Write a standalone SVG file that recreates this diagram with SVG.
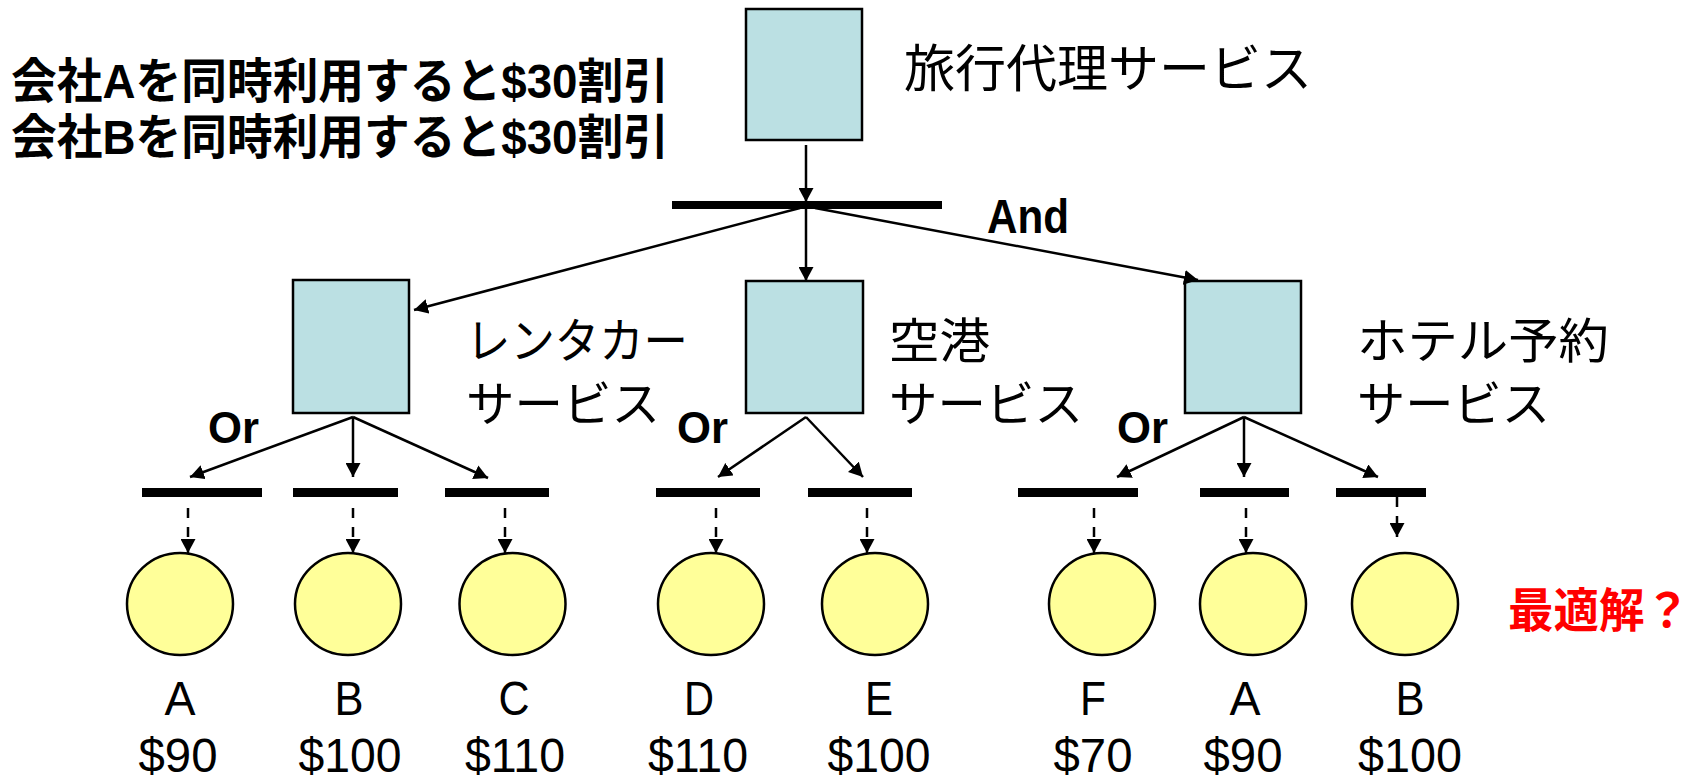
<svg xmlns="http://www.w3.org/2000/svg" width="1701" height="779" viewBox="0 0 1701 779">
<style>
.box{fill:#BBE0E3;stroke:#000;stroke-width:2.5}
.leaf{fill:#FFFF99;stroke:#000;stroke-width:2.5}
.bar{fill:#000}
.cn{stroke:#000;stroke-width:2.5;fill:none;marker-end:url(#ah)}
.dash{stroke:#000;stroke-width:2.5;fill:none;stroke-dasharray:10 9;marker-end:url(#ah)}
.jp{font-family:"Liberation Sans","Noto Sans CJK JP",sans-serif;fill:#000}
.lat{font-family:"Liberation Sans",Arial,sans-serif;fill:#000;text-anchor:middle;font-size:48px}
.op{font-family:"Liberation Sans",Arial,sans-serif;font-weight:bold;fill:#000}
</style>
<defs>
<marker id="ah" viewBox="0 0 14 15" refX="14" refY="7.5" markerWidth="14" markerHeight="15" markerUnits="userSpaceOnUse" orient="auto">
<path d="M0,0 L14,7.5 L0,15 z" fill="#000"/>
</marker>
</defs>

<text class="jp" x="11" y="98" font-size="48" font-weight="bold" textLength="658" lengthAdjust="spacingAndGlyphs">会社Aを同時利用すると$30割引</text>
<text class="jp" x="11" y="154" font-size="48" font-weight="bold" textLength="658" lengthAdjust="spacingAndGlyphs">会社Bを同時利用すると$30割引</text>

<g id="travel">
<rect class="box" x="746" y="9" width="116" height="131"/>
<text class="jp" x="904" y="87" font-size="51" textLength="408" lengthAdjust="spacingAndGlyphs">旅行代理サービス</text>
</g>
<g id="and">
<rect class="bar" x="672" y="201" width="270" height="8"/>
<text class="op" x="987" y="233" font-size="49" textLength="82" lengthAdjust="spacingAndGlyphs">And</text>
</g>

<g id="rental">
<rect class="box" x="293" y="280" width="116" height="133"/>
<text class="jp" x="466" y="358" font-size="48" textLength="222" lengthAdjust="spacingAndGlyphs">レンタカー</text>
<text class="jp" x="466" y="421" font-size="48" textLength="194" lengthAdjust="spacingAndGlyphs">サービス</text>
<text class="op" x="208" y="443" font-size="44" textLength="51" lengthAdjust="spacingAndGlyphs">Or</text>
</g>
<g id="airport">
<rect class="box" x="746" y="281" width="117" height="132"/>
<text class="jp" x="889" y="358" font-size="48" textLength="101" lengthAdjust="spacingAndGlyphs">空港</text>
<text class="jp" x="889" y="421" font-size="48" textLength="194" lengthAdjust="spacingAndGlyphs">サービス</text>
<text class="op" x="677" y="443" font-size="44" textLength="51" lengthAdjust="spacingAndGlyphs">Or</text>
</g>
<g id="hotel">
<rect class="box" x="1185" y="281" width="116" height="132"/>
<text class="jp" x="1357" y="358" font-size="48" textLength="252" lengthAdjust="spacingAndGlyphs">ホテル予約</text>
<text class="jp" x="1357" y="421" font-size="48" textLength="193" lengthAdjust="spacingAndGlyphs">サービス</text>
<text class="op" x="1117" y="443" font-size="44" textLength="51" lengthAdjust="spacingAndGlyphs">Or</text>
</g>

<g id="or-bars">
<rect class="bar" x="142" y="488" width="120" height="9"/>
<rect class="bar" x="293" y="488" width="105" height="9"/>
<rect class="bar" x="445" y="488" width="104" height="9"/>
<rect class="bar" x="656" y="488" width="104" height="9"/>
<rect class="bar" x="808" y="488" width="104" height="9"/>
<rect class="bar" x="1018" y="488" width="120" height="9"/>
<rect class="bar" x="1200" y="488" width="89" height="9"/>
<rect class="bar" x="1336" y="488" width="90" height="9"/>
</g>

<g id="leafA1"><ellipse class="leaf" cx="180" cy="604" rx="53" ry="51"/><text class="lat" x="180" y="715" textLength="31" lengthAdjust="spacingAndGlyphs">A</text><text class="lat" x="178" y="772" textLength="79" lengthAdjust="spacingAndGlyphs">$90</text></g>
<g id="leafB1"><ellipse class="leaf" cx="348" cy="604" rx="53" ry="51"/><text class="lat" x="349" y="715" textLength="29" lengthAdjust="spacingAndGlyphs">B</text><text class="lat" x="350" y="772" textLength="103" lengthAdjust="spacingAndGlyphs">$100</text></g>
<g id="leafC"><ellipse class="leaf" cx="512.5" cy="604" rx="53" ry="51"/><text class="lat" x="514" y="715" textLength="31" lengthAdjust="spacingAndGlyphs">C</text><text class="lat" x="515" y="772" textLength="100" lengthAdjust="spacingAndGlyphs">$110</text></g>
<g id="leafD"><ellipse class="leaf" cx="711" cy="604" rx="53" ry="51"/><text class="lat" x="699" y="715" textLength="30" lengthAdjust="spacingAndGlyphs">D</text><text class="lat" x="698" y="772" textLength="100" lengthAdjust="spacingAndGlyphs">$110</text></g>
<g id="leafE"><ellipse class="leaf" cx="875" cy="604" rx="53" ry="51"/><text class="lat" x="879" y="715" textLength="28" lengthAdjust="spacingAndGlyphs">E</text><text class="lat" x="879" y="772" textLength="103" lengthAdjust="spacingAndGlyphs">$100</text></g>
<g id="leafF"><ellipse class="leaf" cx="1102" cy="604" rx="53" ry="51"/><text class="lat" x="1093" y="715" textLength="26" lengthAdjust="spacingAndGlyphs">F</text><text class="lat" x="1093" y="772" textLength="79" lengthAdjust="spacingAndGlyphs">$70</text></g>
<g id="leafA2"><ellipse class="leaf" cx="1253" cy="604" rx="53" ry="51"/><text class="lat" x="1245" y="715" textLength="31" lengthAdjust="spacingAndGlyphs">A</text><text class="lat" x="1243" y="772" textLength="79" lengthAdjust="spacingAndGlyphs">$90</text></g>
<g id="leafB2"><ellipse class="leaf" cx="1405" cy="604" rx="53" ry="51"/><text class="lat" x="1410" y="715" textLength="29" lengthAdjust="spacingAndGlyphs">B</text><text class="lat" x="1410" y="772" textLength="104" lengthAdjust="spacingAndGlyphs">$100</text></g>

<text class="jp" x="1508" y="627" font-size="47" font-weight="bold" style="fill:#FF0000" textLength="182" lengthAdjust="spacingAndGlyphs">最適解？</text>

<g id="connectors">
<line class="cn" x1="806" y1="145" x2="806" y2="202"/>
<line class="cn" x1="800" y1="208" x2="414" y2="310"/>
<line class="cn" x1="806" y1="209" x2="806" y2="281"/>
<line class="cn" x1="815" y1="208" x2="1198" y2="280"/>
<line class="cn" x1="353" y1="417" x2="190" y2="477"/>
<line class="cn" x1="353" y1="417" x2="353" y2="477"/>
<line class="cn" x1="353" y1="417" x2="488" y2="478"/>
<line class="cn" x1="806" y1="417" x2="718" y2="477"/>
<line class="cn" x1="806" y1="417" x2="863" y2="477"/>
<line class="cn" x1="1244" y1="417" x2="1117" y2="477"/>
<line class="cn" x1="1244" y1="417" x2="1244" y2="477"/>
<line class="cn" x1="1244" y1="417" x2="1378" y2="477"/>
<line class="dash" x1="188" y1="508" x2="188" y2="553"/>
<line class="dash" x1="353" y1="508" x2="353" y2="553"/>
<line class="dash" x1="505" y1="508" x2="505" y2="553"/>
<line class="dash" x1="716" y1="508" x2="716" y2="553"/>
<line class="dash" x1="867" y1="508" x2="867" y2="553"/>
<line class="dash" x1="1094" y1="508" x2="1094" y2="553"/>
<line class="dash" x1="1246" y1="508" x2="1246" y2="553"/>
<line class="dash" x1="1397" y1="497" x2="1397" y2="537"/>
</g>
</svg>
